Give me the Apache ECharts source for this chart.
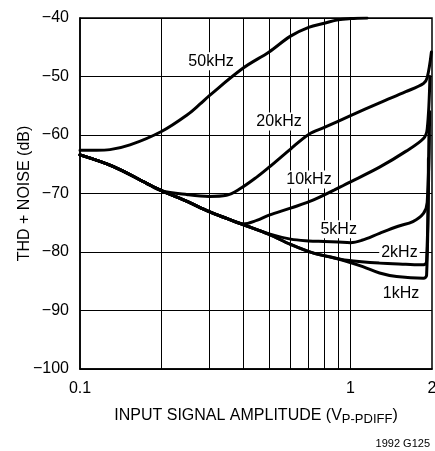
<!DOCTYPE html>
<html>
<head>
<meta charset="utf-8">
<script src="https://cdn.jsdelivr.net/npm/echarts@6/dist/echarts.min.js"></script>
<style>html,body{margin:0;padding:0;background:#fff;}#c{width:435px;height:451px;}</style>
</head>
<body>
<div id="c"></div>
<script>
// ---- data (x = input amplitude Vp-p diff, y = THD+N dB) ----
const x50k = [0.1, 0.115, 0.129, 0.153, 0.2, 0.25, 0.278, 0.3, 0.4, 0.5, 0.6, 0.7, 0.8, 0.9, 1.0, 1.15];
const y50k = [-62.6, -62.6, -62.5, -61.7, -59.4, -56.5, -54.7, -53.3, -48.6, -45.8, -43.1, -41.6, -40.9, -40.3, -40.1, -40.0];

const x20k = [0.1, 0.133, 0.177, 0.2, 0.25, 0.3, 0.348, 0.39, 0.45, 0.5, 0.6, 0.7, 0.8, 1.0, 1.28, 1.6, 1.86, 1.92, 1.99];
const y20k = [-63.4, -65.4, -68.3, -69.5, -70.2, -70.5, -70.3, -69.2, -67.2, -65.5, -62.4, -59.9, -58.7, -56.7, -54.5, -52.6, -51.2, -50.2, -45.8];

const x10k = [0.1, 0.133, 0.177, 0.2, 0.25, 0.3, 0.35, 0.4, 0.45, 0.5, 0.6, 0.73, 1.0, 1.28, 1.6, 1.86, 1.92, 1.965];
const y10k = [-63.4, -65.4, -68.3, -69.5, -71.4, -73.1, -74.3, -75.2, -74.6, -73.7, -72.5, -71.1, -68.0, -65.5, -62.8, -60.6, -59.0, -50.0];

const x5k = [0.1, 0.133, 0.177, 0.2, 0.25, 0.3, 0.35, 0.4, 0.5, 0.6, 0.7, 0.8, 0.9, 1.0, 1.1, 1.28, 1.5, 1.7, 1.86, 1.92, 1.96];
const y5k = [-63.4, -65.4, -68.3, -69.5, -71.4, -73.1, -74.3, -75.3, -76.9, -77.8, -78.1, -78.2, -78.3, -78.4, -78.0, -76.8, -75.6, -74.8, -73.4, -71.5, -56.0];

const x2k = [0.1, 0.133, 0.177, 0.2, 0.25, 0.3, 0.35, 0.4, 0.5, 0.6, 0.73, 0.85, 0.97, 1.28, 1.6, 1.86, 1.91, 1.95];
const y2k = [-63.4, -65.4, -68.3, -69.5, -71.4, -73.1, -74.3, -75.3, -77.0, -78.7, -80.2, -80.9, -81.4, -81.9, -82.1, -82.2, -81.6, -60.0];

const x1k = [0.1, 0.133, 0.177, 0.2, 0.25, 0.3, 0.35, 0.4, 0.5, 0.6, 0.73, 0.85, 0.95, 1.11, 1.28, 1.48, 1.86, 1.91, 1.94];
const y1k = [-63.4, -65.4, -68.3, -69.5, -71.4, -73.1, -74.3, -75.3, -77.0, -78.7, -80.2, -80.9, -81.5, -82.5, -83.6, -84.2, -84.5, -84.0, -64.0];

const curveNames = ['50kHz', '20kHz', '10kHz', '5kHz', '2kHz', '1kHz'];
const labelX = [0.305, 0.544, 0.702, 0.904, 1.516, 1.536];
const labelY = [-47.4, -57.7, -67.6, -76.1, -80.1, -87.1];

const xGridValues = [0.2, 0.3, 0.4, 0.5, 0.6, 0.7, 0.8, 0.9, 1];
const xMin = 0.1, xMax = 2;
const yMin = -100, yMax = -40, yStep = 10;

const xTitle = 'INPUT SIGNAL AMPLITUDE (V{sub|P-PDIFF})';
const yTitle = 'THD + NOISE (dB)';
const footnote = '1992 G125';

// ---- chart ----
const FONT = '"Liberation Sans", Arial, sans-serif';
const curvesX = [x50k, x20k, x10k, x5k, x2k, x1k];
const curvesY = [y50k, y20k, y10k, y5k, y2k, y1k];

const series = [{
  type: 'line', data: [], z: 1, silent: true,
  markLine: {
    silent: true, z: 1, symbol: ['none', 'none'], animation: false,
    label: { show: false },
    lineStyle: { color: '#000', width: 1, type: 'solid' },
    emphasis: { disabled: true },
    data: xGridValues.map(v => ({ xAxis: v }))
  }
}];
curveNames.forEach((n, i) => {
  series.push({
    name: n, type: 'line', z: 3,
    data: curvesX[i].map((x, j) => [x, curvesY[i][j]]),
    showSymbol: false, symbol: 'none',
    smooth: 0.35,
    lineStyle: { color: '#000', width: 3, cap: 'round', join: 'round' },
    animation: false,
    markPoint: {
      z: 10, animation: false, silent: true,
      symbol: 'circle', symbolSize: 1,
      itemStyle: { color: 'rgba(0,0,0,0)' },
      label: {
        show: true, position: 'inside', formatter: n,
        color: '#000', fontSize: 16, fontFamily: FONT,
        backgroundColor: '#fff', padding: [1, 2, 1, 2]
      },
      data: [{ coord: [labelX[i], labelY[i]], name: n }]
    }
  });
});

const chart = echarts.init(document.getElementById('c'), null, { renderer: 'canvas' });
chart.setOption({
  animation: false,
  backgroundColor: '#fff',
  textStyle: { fontFamily: FONT },
  grid: { left: 80, right: 3, top: 18, bottom: 82, outerBoundsMode: 'none', containLabel: false,
          show: true, borderColor: '#000', borderWidth: 1.5, backgroundColor: 'transparent' },
  xAxis: {
    type: 'log', logBase: 10, min: xMin, max: xMax,
    axisLine: { show: true, lineStyle: { color: '#000', width: 1.5 } },
    axisTick: { show: false },
    splitLine: { show: false },
    axisLabel: { color: '#000', fontSize: 16, margin: 12, fontFamily: FONT, formatter: v => String(+v.toPrecision(3)) },
    name: xTitle, nameLocation: 'middle', nameGap: 36, nameMoveOverlap: false,
    nameTextStyle: {
      color: '#000', fontSize: 16, fontFamily: FONT,
      rich: { sub: { fontSize: 13, fontFamily: FONT, color: '#000', padding: [8, 0, 0, 0] } }
    }
  },
  yAxis: {
    type: 'value', min: yMin, max: yMax, interval: yStep,
    axisLine: { show: true, lineStyle: { color: '#000', width: 1.5 } },
    axisTick: { show: false },
    splitLine: { show: true, lineStyle: { color: '#000', width: 1 } },
    axisLabel: { color: '#000', fontSize: 16, margin: 11, fontFamily: FONT, formatter: v => String(v).replace('-', '\u2212') },
    name: yTitle, nameLocation: 'middle', nameGap: 47, nameMoveOverlap: false,
    nameTextStyle: { color: '#000', fontSize: 16, fontFamily: FONT }
  },
  graphic: [{
    type: 'text', right: 5, top: 438,
    style: { text: footnote, fontSize: 11, fontFamily: FONT, fill: '#000' }
  }],
  series: series
});
</script>
</body>
</html>
